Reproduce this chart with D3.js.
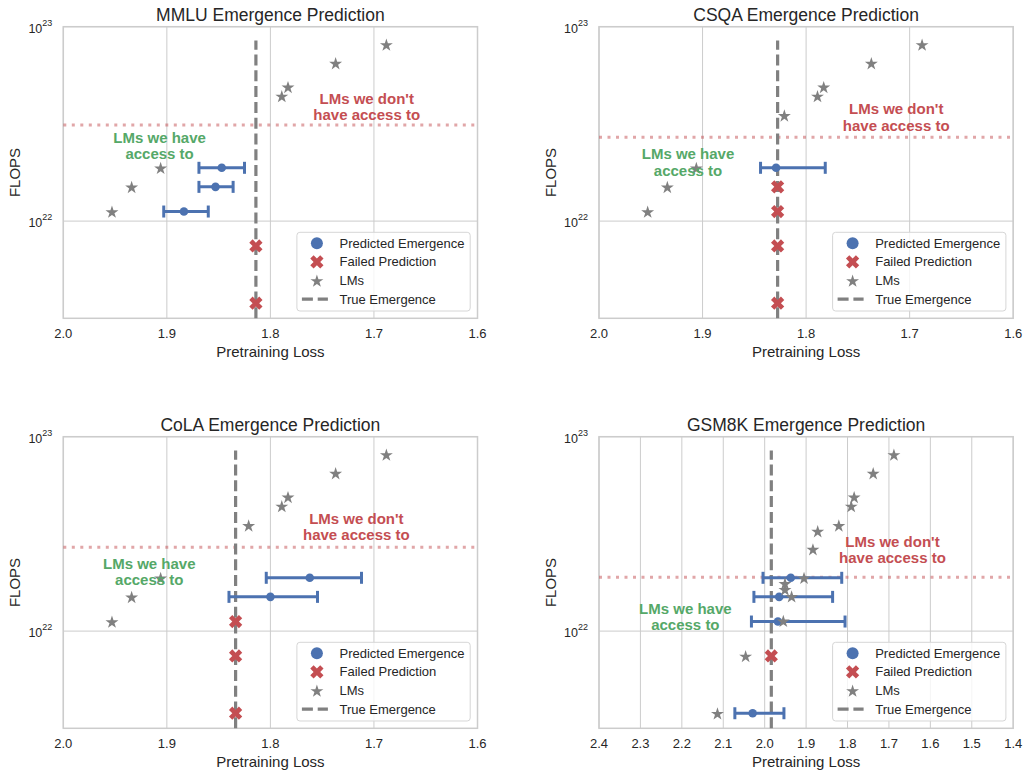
<!DOCTYPE html>
<html lang="en">
<head>
    <meta charset="UTF-8">
    <script src="https://d3js.org/d3.v7.min.js"></script>
    <title>Emergence Prediction</title>
    <style>
        body { margin: 0; background: #fff; }
        svg { display: block; font-family: "Liberation Sans", Arial, sans-serif; }
    </style>
</head>
<body>
    <div id="chart"></div>
    <script>
        // ---- data ----
        const titles = ["MMLU Emergence Prediction", "CSQA Emergence Prediction",
                        "CoLA Emergence Prediction", "GSM8K Emergence Prediction"];
        const xTicksA = [2.0, 1.9, 1.8, 1.7, 1.6];
        const xTicksB = [2.4, 2.3, 2.2, 2.1, 2.0, 1.9, 1.8, 1.7, 1.6, 1.5, 1.4];
        const yTicks = [1e22, 1e23];

        // LMs: [pretraining loss, flops]
        const lmsMMLU = [[1.688, 8.1e22], [1.737, 6.5e22], [1.783, 4.9e22], [1.789, 4.4e22],
                         [1.906, 1.88e22], [1.934, 1.5e22], [1.953, 1.12e22]];
        const lmsCSQA = [[1.688, 8.1e22], [1.737, 6.5e22], [1.783, 4.9e22], [1.789, 4.4e22],
                         [1.821, 3.5e22], [1.906, 1.88e22], [1.934, 1.5e22], [1.953, 1.12e22]];
        const lmsCoLA = [[1.688, 8.1e22], [1.737, 6.5e22], [1.783, 4.9e22], [1.789, 4.4e22],
                         [1.821, 3.5e22], [1.906, 1.88e22], [1.934, 1.5e22], [1.953, 1.12e22]];
        const lmsGSM8K = [[1.688, 8.1e22], [1.738, 6.5e22], [1.784, 4.9e22], [1.791, 4.4e22],
                          [1.821, 3.5e22], [1.872, 3.27e22], [1.8835, 2.64e22], [1.905, 1.88e22],
                          [1.951, 1.76e22], [1.951, 1.64e22], [1.935, 1.51e22], [1.955, 1.13e22],
                          [2.046, 7.45e21], [2.114, 3.78e21]];

        // predicted emergence: [flops, loss, lower end, upper end]
        const predMMLU = [[1.88e22, 1.847, 1.869, 1.825], [1.5e22, 1.853, 1.869, 1.836],
                          [1.12e22, 1.8835, 1.903, 1.860]];
        const predCSQA = [[1.88e22, 1.829, 1.844, 1.7815]];
        const predCoLA = [[1.88e22, 1.762, 1.804, 1.712], [1.5e22, 1.800, 1.840, 1.7545]];
        const predGSM8K = [[1.88e22, 1.937, 2.004, 1.814], [1.5e22, 1.965, 2.026, 1.836],
                           [1.12e22, 1.968, 2.032, 1.806], [3.78e21, 2.029, 2.072, 1.9535]];

        // failed predictions (flops), drawn at the true emergence loss
        const failMMLU = [7.45e21, 3.78e21];
        const failCSQA = [1.5e22, 1.12e22, 7.45e21, 3.78e21];
        const failCoLA = [1.12e22, 7.45e21, 3.78e21];
        const failGSM8K = [7.45e21];

        const trueEmergence = [1.814, 1.8275, 1.8336, 1.984];
        const accessCutoff = [3.12e22, 2.7e22, 2.7e22, 1.89e22];

        // ---- layout ----
        const W = 1023, H = 771;
        const pw = 414.2, ph = 291.6;
        const origins = [[63.3, 26.7], [599, 26.7], [63.3, 436.7], [599, 436.7]];
        const xDomains = [[2.0, 1.6], [2.0, 1.6], [2.0, 1.6], [2.4, 1.4]];
        const xTicks = [xTicksA, xTicksA, xTicksA, xTicksB];
        const lms = [lmsMMLU, lmsCSQA, lmsCoLA, lmsGSM8K];
        const preds = [predMMLU, predCSQA, predCoLA, predGSM8K];
        const fails = [failMMLU, failCSQA, failCoLA, failGSM8K];
        // annotation anchors (data coords, first-line centre)
        const redNote = [[1.707, 4.26e22], [1.713, 3.77e22], [1.717, 3.8e22], [1.6915, 2.88e22]];
        const greenNote = [[1.907, 2.7e22], [1.914, 2.21e22], [1.917, 2.22e22], [2.1915, 1.31e22]];

        const blue = "#4c72b0", red = "#c44e52", green = "#55a868", gray = "#808080";
        const textCol = "#262626", gridCol = "#cccccc";

        const svg = d3.select("#chart").append("svg")
            .attr("width", W).attr("height", H);

        const star = d3.symbol(d3.symbolStar, 52)();
        const cross = d3.symbol(d3.symbolCross, 110)();

        origins.forEach(([ox, oy], i) => {
            const x = d3.scaleLinear().domain(xDomains[i]).range([ox, ox + pw]);
            const y = d3.scaleLog().domain([Math.pow(10, 21.5), 1e23]).range([oy + ph, oy]);
            const g = svg.append("g");

            // grid
            g.selectAll(".vg").data(xTicks[i]).join("line")
                .attr("x1", d => x(d)).attr("x2", d => x(d))
                .attr("y1", oy).attr("y2", oy + ph)
                .attr("stroke", gridCol).attr("stroke-width", 1);
            g.selectAll(".hg").data(yTicks).join("line")
                .attr("x1", ox).attr("x2", ox + pw)
                .attr("y1", d => y(d)).attr("y2", d => y(d))
                .attr("stroke", gridCol).attr("stroke-width", 1);

            // spines
            g.append("rect")
                .attr("x", ox).attr("y", oy).attr("width", pw).attr("height", ph)
                .attr("fill", "none").attr("stroke", gridCol).attr("stroke-width", 1.5);

            // x tick labels
            g.selectAll(".xt").data(xTicks[i]).join("text")
                .attr("x", d => x(d)).attr("y", oy + ph + 20)
                .attr("text-anchor", "middle").attr("font-size", 13).attr("fill", textCol)
                .text(d => d.toFixed(1));

            // y tick labels 10^n
            g.selectAll(".yt").data(yTicks).join("text")
                .attr("x", ox - 11).attr("y", d => y(d) + 6)
                .attr("text-anchor", "end").attr("font-size", 12.5).attr("fill", textCol)
                .each(function (d) {
                    const t = d3.select(this);
                    t.append("tspan").text("10");
                    t.append("tspan").attr("dy", -7).attr("font-size", 9)
                        .text(Math.round(Math.log10(d)));
                });

            // titles and axis labels
            g.append("text")
                .attr("x", ox + pw / 2).attr("y", oy - 6)
                .attr("text-anchor", "middle").attr("font-size", 17.5).attr("fill", textCol)
                .text(titles[i]);
            g.append("text")
                .attr("x", ox + pw / 2).attr("y", oy + ph + 38.4)
                .attr("text-anchor", "middle").attr("font-size", 15).attr("fill", textCol)
                .text("Pretraining Loss");
            g.append("text")
                .attr("transform", `translate(${ox - 43.3},${oy + ph / 2}) rotate(-90)`)
                .attr("text-anchor", "middle").attr("font-size", 15).attr("fill", textCol)
                .text("FLOPS");

            // access cutoff line
            g.append("line")
                .attr("x1", ox).attr("x2", ox + pw)
                .attr("y1", y(accessCutoff[i])).attr("y2", y(accessCutoff[i]))
                .attr("stroke", red).attr("stroke-opacity", 0.5)
                .attr("stroke-width", 3).attr("stroke-dasharray", "3,5.5");

            // true emergence
            g.append("line")
                .attr("x1", x(trueEmergence[i])).attr("x2", x(trueEmergence[i]))
                .attr("y1", oy + ph).attr("y2", y(8.5e22))
                .attr("stroke", gray).attr("stroke-width", 3.2)
                .attr("stroke-dasharray", "11,4.8");

            // error bars
            const eb = g.selectAll(".eb").data(preds[i]).join("g");
            eb.append("line")
                .attr("x1", d => x(d[2])).attr("x2", d => x(d[3]))
                .attr("y1", d => y(d[0])).attr("y2", d => y(d[0]))
                .attr("stroke", blue).attr("stroke-width", 3);
            eb.selectAll(".cap").data(d => [[d[2], d[0]], [d[3], d[0]]]).join("line")
                .attr("x1", d => x(d[0])).attr("x2", d => x(d[0]))
                .attr("y1", d => y(d[1]) - 6).attr("y2", d => y(d[1]) + 6)
                .attr("stroke", blue).attr("stroke-width", 3);
            eb.append("circle")
                .attr("cx", d => x(d[1])).attr("cy", d => y(d[0])).attr("r", 4.3)
                .attr("fill", blue);

            // failed predictions
            g.selectAll(".fx").data(fails[i]).join("path")
                .attr("d", cross)
                .attr("transform", d => `translate(${x(trueEmergence[i])},${y(d)}) rotate(45)`)
                .attr("fill", red);

            // LMs
            g.selectAll(".lm").data(lms[i]).join("path")
                .attr("d", star)
                .attr("transform", d => `translate(${x(d[0])},${y(d[1]) + 0.8})`)
                .attr("fill", gray);

            // annotations
            const note = (pos, col, lines) => {
                const cx = x(pos[0]), cy = y(pos[1]);
                lines.forEach((s, k) => {
                    g.append("text")
                        .attr("x", cx).attr("y", cy + 5.3 + k * 16.4)
                        .attr("text-anchor", "middle").attr("font-size", 15)
                        .attr("font-weight", "bold").attr("fill", col)
                        .text(s);
                });
            };
            note(redNote[i], red, ["LMs we don't", "have access to"]);
            note(greenNote[i], green, ["LMs we have", "access to"]);

            // legend
            const lx = ox + pw - 7.3 - 173.3, ly = oy + ph - 7.3 - 78.7;
            const lg = g.append("g").attr("transform", `translate(${lx},${ly})`);
            lg.append("rect")
                .attr("width", 173.3).attr("height", 78.7).attr("rx", 3)
                .attr("fill", "#fff").attr("fill-opacity", 0.8)
                .attr("stroke", "#d6d6d6").attr("stroke-width", 1);
            const rows = ["Predicted Emergence", "Failed Prediction", "LMs", "True Emergence"];
            rows.forEach((label, k) => {
                const ry = 11 + k * 18.6;
                if (k === 0) lg.append("circle").attr("cx", 20).attr("cy", ry).attr("r", 6).attr("fill", blue);
                if (k === 1) lg.append("path").attr("d", cross)
                    .attr("transform", `translate(20,${ry}) rotate(45)`).attr("fill", red);
                if (k === 2) lg.append("path").attr("d", star)
                    .attr("transform", `translate(20,${ry + 0.8})`).attr("fill", gray);
                if (k === 3) lg.append("line")
                    .attr("x1", 5).attr("x2", 31).attr("y1", ry).attr("y2", ry)
                    .attr("stroke", gray).attr("stroke-width", 3.2).attr("stroke-dasharray", "11,4.8");
                lg.append("text")
                    .attr("x", 42.6).attr("y", ry + 4.6)
                    .attr("font-size", 13).attr("fill", textCol)
                    .text(label);
            });
        });
    </script>
</body>
</html>
